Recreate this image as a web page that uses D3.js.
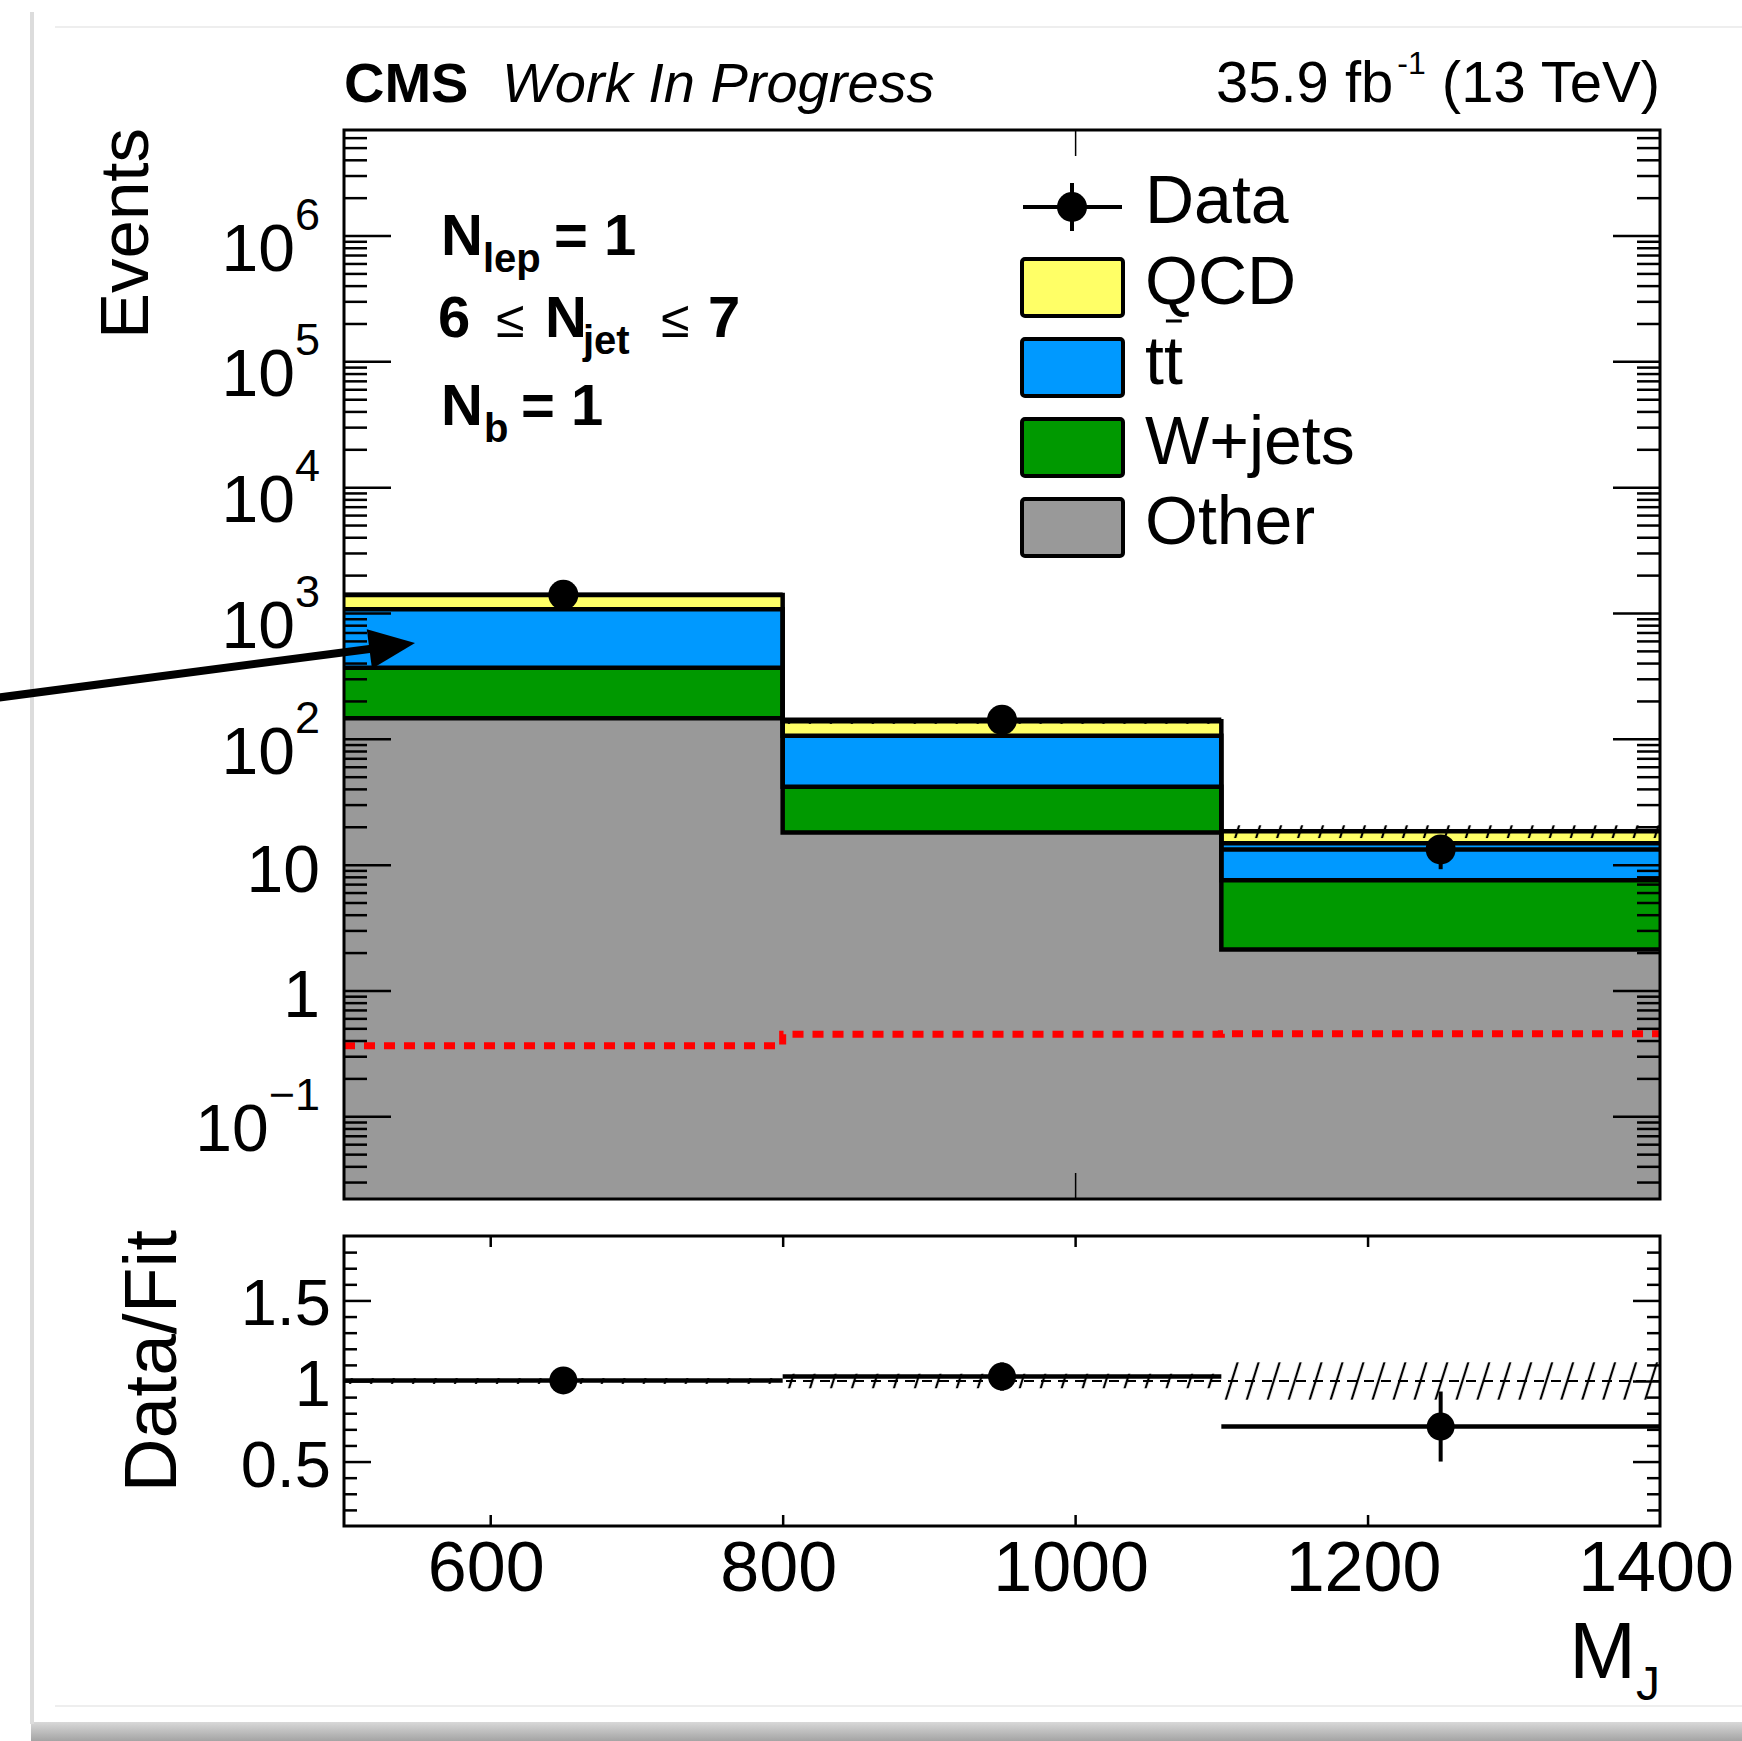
<!DOCTYPE html>
<html>
<head>
<meta charset="utf-8">
<script src="https://cdn.jsdelivr.net/npm/d3@7"></script>
<style>
  html, body { margin: 0; background: #fff; overflow: hidden; }
  svg { display: block; font-family: "Liberation Sans", Arial, Helvetica, sans-serif; }
</style>
</head>
<body>
<div id="chart"></div>
<script>
// ---- data ----
const binEdges = [500, 800, 1100, 1400];
const other = [146, 18.0, 2.12];
const wjets = [221, 23.6, 5.41];
const ttbar = [702, 64.4, 7.27];
const qcd = [321, 31.7, 3.6];
const dataCounts = [1395, 141.5, 13.2];
const dataErr = [37, 12, 4.0];
const fitUnc = [0.018, 0.045, 0.116];     // relative uncertainty on the fit
const signal = [0.363, 0.448, 0.452];     // red dashed histogram

const yMajorTicks = [0.1, 1, 10, 100, 1e3, 1e4, 1e5, 1e6];
const yTickLabels = [["10", "\u22121"], ["1", ""], ["10", ""], ["10", "2"], ["10", "3"], ["10", "4"], ["10", "5"], ["10", "6"]];
const ratioTicks = [0.5, 1, 1.5];
const ratioTickLabels = ["0.5", "1", "1.5"];
const xTicks = [600, 800, 1000, 1200, 1400];
const xTickLabels = ["600", "800", "1000", "1200", "1400"];

const legendEntries = [
    { key: "qcd", label: "QCD", color: "#ffff66" },
    { key: "ttbar", label: "tt", color: "#0099ff" },
    { key: "wjets", label: "W+jets", color: "#009900" },
    { key: "other", label: "Other", color: "#999999" }
];
const colors = { qcd: "#ffff66", ttbar: "#0099ff", wjets: "#009900", other: "#999999" };

// ---- layout ----
const width = 1742, height = 1741;
const frameLeft = 344, frameRight = 1660;
const mainTop = 130, mainBottom = 1199;
const ratioTop = 1236, ratioBottom = 1526;

const svg = d3.select("#chart").append("svg")
    .attr("width", width)
    .attr("height", height);

// page border / shadow of the screenshot
const defs = svg.append("defs");
const shadow = defs.append("linearGradient").attr("id", "shadow").attr("x1", 0).attr("y1", 0).attr("x2", 0).attr("y2", 1);
shadow.append("stop").attr("offset", "0%").attr("stop-color", "#d8d8d8");
shadow.append("stop").attr("offset", "100%").attr("stop-color", "#a4a4a4");
svg.append("rect").attr("x", 31).attr("y", 1722).attr("width", width - 31).attr("height", height - 1722).attr("fill", "url(#shadow)");
svg.append("rect").attr("x", 30).attr("y", 12).attr("width", 4).attr("height", 1712).attr("fill", "#dcdcdc");
svg.append("line").attr("x1", 55).attr("x2", width).attr("y1", 27).attr("y2", 27).attr("stroke", "#eeeeee").attr("stroke-width", 2);
svg.append("line").attr("x1", 55).attr("x2", width).attr("y1", 1706).attr("y2", 1706).attr("stroke", "#eeeeee").attr("stroke-width", 2);

// hatch pattern for fit uncertainty
defs.append("pattern")
    .attr("id", "hatch")
    .attr("patternUnits", "userSpaceOnUse")
    .attr("width", 20).attr("height", 20)
    .attr("patternTransform", "rotate(17.5)")
    .append("line")
    .attr("x1", 10).attr("x2", 10).attr("y1", 0).attr("y2", 20)
    .attr("stroke", "#000").attr("stroke-width", 2.2);

defs.append("clipPath").attr("id", "clipMain").append("rect")
    .attr("x", frameLeft).attr("y", mainTop).attr("width", frameRight - frameLeft).attr("height", mainBottom - mainTop);
defs.append("clipPath").attr("id", "clipRatio").append("rect")
    .attr("x", frameLeft).attr("y", ratioTop).attr("width", frameRight - frameLeft).attr("height", ratioBottom - ratioTop);

//Scales
const x = d3.scaleLinear().domain([500, 1400]).range([frameLeft, frameRight]);
const y = d3.scaleLog().domain([0.022, 6.9e6]).range([mainBottom, mainTop]);
const r = d3.scaleLinear().domain([0.1, 1.9]).range([ratioBottom, ratioTop]);

//Stack the backgrounds
const rows = binEdges.slice(0, -1).map((lo, i) => ({
    lo, hi: binEdges[i + 1],
    other: other[i], wjets: wjets[i], ttbar: ttbar[i], qcd: qcd[i]
}));
const series = d3.stack().keys(["other", "wjets", "ttbar", "qcd"])(rows);
const totals = series[series.length - 1].map(d => d[1]);

const stepPoints = s => [...s.map(d => [d.data.lo, d[1]]), [s[s.length - 1].data.hi, s[s.length - 1][1]]];
const stepArea = d3.area()
    .x(d => x(d[0]))
    .y0(mainBottom)
    .y1(d => y(d[1]))
    .curve(d3.curveStepAfter);
const stepLine = d3.line()
    .x(d => x(d[0]))
    .y(d => y(d[1]))
    .curve(d3.curveStepAfter);

const main = svg.append("g").attr("clip-path", "url(#clipMain)");
const topFirst = series.slice().reverse();
main.selectAll(".fill")
    .data(topFirst)
    .enter().append("path")
    .attr("class", "fill")
    .attr("d", s => stepArea(stepPoints(s)))
    .attr("fill", s => colors[s.key]);
main.selectAll(".outline")
    .data(topFirst)
    .enter().append("path")
    .attr("class", "outline")
    .attr("d", s => stepLine(stepPoints(s)))
    .attr("fill", "none")
    .attr("stroke", "#000")
    .attr("stroke-width", 4.5);

//Signal (red dashed)
const sigPts = [...signal.map((v, i) => [binEdges[i], v]), [binEdges[3], signal[2]]];
main.append("path")
    .attr("d", stepLine(sigPts))
    .attr("fill", "none")
    .attr("stroke", "#ff0000")
    .attr("stroke-width", 7)
    .attr("stroke-dasharray", "11,9");

//Fit uncertainty band
main.selectAll(".band")
    .data(rows)
    .enter().append("rect")
    .attr("x", d => x(d.lo))
    .attr("width", d => x(d.hi) - x(d.lo))
    .attr("y", (d, i) => y(totals[i] * (1 + fitUnc[i])))
    .attr("height", (d, i) => y(totals[i] * (1 - fitUnc[i])) - y(totals[i] * (1 + fitUnc[i])))
    .attr("fill", "url(#hatch)");

//Data points
function drawData(g, sy, vals, errs, rad) {
    const pts = g.selectAll(null).data(rows).enter().append("g");
    pts.append("line")
        .attr("x1", d => x(d.lo)).attr("x2", d => x(d.hi))
        .attr("y1", (d, i) => sy(vals[i])).attr("y2", (d, i) => sy(vals[i]))
        .attr("stroke", "#000").attr("stroke-width", 4.5);
    pts.append("line")
        .attr("x1", d => x((d.lo + d.hi) / 2)).attr("x2", d => x((d.lo + d.hi) / 2))
        .attr("y1", (d, i) => sy(vals[i] + errs[i])).attr("y2", (d, i) => sy(vals[i] - errs[i]))
        .attr("stroke", "#000").attr("stroke-width", 4);
    pts.append("circle")
        .attr("cx", d => x((d.lo + d.hi) / 2))
        .attr("cy", (d, i) => sy(vals[i]))
        .attr("r", rad)
        .attr("fill", "#000");
}
drawData(main, y, dataCounts, dataErr, 15);

//Axes of the main pad
function styleAxis(g, w) {
    g.select(".domain").remove();
    g.selectAll(".tick line").attr("stroke", "#000").attr("stroke-width", w);
    g.selectAll(".tick text").remove();
}
const yMinor = [];
for (let e = -2; e <= 6; e++) {
    for (let m = 2; m <= 9; m++) {
        const v = m * Math.pow(10, e);
        if (v > y.domain()[0] && v < y.domain()[1]) yMinor.push(v);
    }
}
svg.append("g").attr("transform", `translate(${frameLeft},0)`)
    .call(d3.axisLeft(y).tickValues(yMajorTicks).tickSize(-47).tickFormat(""))
    .call(g => styleAxis(g, 2.5));
svg.append("g").attr("transform", `translate(${frameLeft},0)`)
    .call(d3.axisLeft(y).tickValues(yMinor).tickSize(-23).tickFormat(""))
    .call(g => styleAxis(g, 2.5));
svg.append("g").attr("transform", `translate(${frameRight},0)`)
    .call(d3.axisRight(y).tickValues(yMajorTicks).tickSize(-47).tickFormat(""))
    .call(g => styleAxis(g, 2.5));
svg.append("g").attr("transform", `translate(${frameRight},0)`)
    .call(d3.axisRight(y).tickValues(yMinor).tickSize(-23).tickFormat(""))
    .call(g => styleAxis(g, 2.5));
svg.append("g").attr("transform", `translate(0,${mainBottom})`)
    .call(d3.axisBottom(x).tickValues([1000]).tickSize(-26).tickFormat(""))
    .call(g => styleAxis(g, 1.5));
svg.append("g").attr("transform", `translate(0,${mainTop})`)
    .call(d3.axisTop(x).tickValues([1000]).tickSize(-26).tickFormat(""))
    .call(g => styleAxis(g, 1.5));

svg.append("rect")
    .attr("x", frameLeft).attr("y", mainTop)
    .attr("width", frameRight - frameLeft).attr("height", mainBottom - mainTop)
    .attr("fill", "none").attr("stroke", "#000").attr("stroke-width", 3);

//Y tick labels (10^n)
const yLab = svg.append("g").attr("text-anchor", "end");
yMajorTicks.forEach((v, i) => {
    const [base, sup] = yTickLabels[i];
    const t = yLab.append("text").attr("x", 320);
    if (sup) {
        t.attr("y", y(v) + 35);
        t.append("tspan").attr("font-size", 66).text(base);
        t.append("tspan").attr("font-size", 45).attr("dy", -41).text(sup);
    } else {
        t.attr("y", y(v) + 27).attr("font-size", 66).text(base);
    }
});

//Ratio pad
const ratio = svg.append("g").attr("clip-path", "url(#clipRatio)");
ratio.selectAll(".rband")
    .data(rows)
    .enter().append("rect")
    .attr("x", d => x(d.lo))
    .attr("width", d => x(d.hi) - x(d.lo))
    .attr("y", (d, i) => r(1 + fitUnc[i]))
    .attr("height", (d, i) => r(1 - fitUnc[i]) - r(1 + fitUnc[i]))
    .attr("fill", "url(#hatch)");
ratio.append("line")
    .attr("x1", frameLeft).attr("x2", frameRight)
    .attr("y1", r(1)).attr("y2", r(1))
    .attr("stroke", "#000").attr("stroke-width", 2)
    .attr("stroke-dasharray", "10,7");
const ratioVals = dataCounts.map((d, i) => d / totals[i]);
const ratioErrs = dataErr.map((e, i) => e / totals[i]);
drawData(ratio, r, ratioVals, ratioErrs, 14);

const rMinor = d3.range(0.2, 1.85, 0.1).filter(v => !ratioTicks.some(t => Math.abs(t - v) < 1e-6));
svg.append("g").attr("transform", `translate(${frameLeft},0)`)
    .call(d3.axisLeft(r).tickValues(ratioTicks).tickSize(-27).tickFormat(""))
    .call(g => styleAxis(g, 2.5));
svg.append("g").attr("transform", `translate(${frameLeft},0)`)
    .call(d3.axisLeft(r).tickValues(rMinor).tickSize(-13).tickFormat(""))
    .call(g => styleAxis(g, 2.5));
svg.append("g").attr("transform", `translate(${frameRight},0)`)
    .call(d3.axisRight(r).tickValues(ratioTicks).tickSize(-27).tickFormat(""))
    .call(g => styleAxis(g, 2.5));
svg.append("g").attr("transform", `translate(${frameRight},0)`)
    .call(d3.axisRight(r).tickValues(rMinor).tickSize(-13).tickFormat(""))
    .call(g => styleAxis(g, 2.5));
svg.append("g").attr("transform", `translate(0,${ratioBottom})`)
    .call(d3.axisBottom(x).tickValues(xTicks.slice(0, -1)).tickSize(-11).tickFormat(""))
    .call(g => styleAxis(g, 2.5));
svg.append("g").attr("transform", `translate(0,${ratioTop})`)
    .call(d3.axisTop(x).tickValues(xTicks.slice(0, -1)).tickSize(-11).tickFormat(""))
    .call(g => styleAxis(g, 2.5));
svg.append("rect")
    .attr("x", frameLeft).attr("y", ratioTop)
    .attr("width", frameRight - frameLeft).attr("height", ratioBottom - ratioTop)
    .attr("fill", "none").attr("stroke", "#000").attr("stroke-width", 3);

svg.append("g").attr("text-anchor", "end").attr("font-size", 65)
    .selectAll("text").data(ratioTicks).enter().append("text")
    .attr("x", 331).attr("y", d => r(d) + 25)
    .text((d, i) => ratioTickLabels[i]);

svg.append("g").attr("text-anchor", "middle").attr("font-size", 70)
    .selectAll("text").data(xTicks).enter().append("text")
    .attr("x", d => x(d) - 4).attr("y", 1591)
    .text((d, i) => xTickLabels[i]);

//Axis titles
svg.append("text")
    .attr("transform", "translate(148,128) rotate(-90)")
    .attr("text-anchor", "end").attr("font-size", 69)
    .text("Events");
svg.append("text")
    .attr("transform", "translate(176,1230) rotate(-90)")
    .attr("text-anchor", "end").attr("font-size", 75)
    .text("Data/Fit");
const mj = svg.append("text").attr("x", frameRight).attr("y", 1678).attr("text-anchor", "end").attr("font-size", 80);
mj.append("tspan").text("M");
mj.append("tspan").attr("font-size", 48).attr("dy", 22).text("J");

//Header
svg.append("text").attr("x", frameLeft).attr("y", 102)
    .attr("font-size", 56).attr("font-weight", "bold").text("CMS");
svg.append("text").attr("x", 502).attr("y", 102)
    .attr("font-size", 56).attr("font-style", "italic").text("Work In Progress");
const lumi = svg.append("text").attr("x", frameRight).attr("y", 102)
    .attr("text-anchor", "end").attr("font-size", 58);
lumi.append("tspan").text("35.9 fb");
lumi.append("tspan").attr("font-size", 32).attr("dx", 4).attr("dy", -28).text("-1");
lumi.append("tspan").attr("dy", 28).text(" (13 TeV)");

//Selection labels
const sel = svg.append("g").attr("font-weight", "bold").attr("font-size", 58);
const row1 = sel.append("text").attr("y", 255);
row1.append("tspan").attr("x", 441).text("N");
row1.append("tspan").attr("x", 483).attr("dy", 17).attr("font-size", 40).text("lep");
row1.append("tspan").attr("x", 554).attr("dy", -17).text("=");
row1.append("tspan").attr("x", 604).text("1");
const row2 = sel.append("text").attr("y", 337);
row2.append("tspan").attr("x", 438).text("6");
row2.append("tspan").attr("x", 496).attr("font-weight", "normal").attr("font-size", 52).text("\u2264");
row2.append("tspan").attr("x", 545).text("N");
row2.append("tspan").attr("x", 583).attr("dy", 17).attr("font-size", 40).text("jet");
row2.append("tspan").attr("x", 661).attr("dy", -17).attr("font-weight", "normal").attr("font-size", 52).text("\u2264");
row2.append("tspan").attr("x", 708).text("7");
const row3 = sel.append("text").attr("y", 425);
row3.append("tspan").attr("x", 441).text("N");
row3.append("tspan").attr("x", 484).attr("dy", 17).attr("font-size", 40).text("b");
row3.append("tspan").attr("x", 521).attr("dy", -17).text("=");
row3.append("tspan").attr("x", 571).text("1");

//Legend
const legend = svg.append("g").attr("font-size", 68);
const legendTextX = 1145;
const dataRowY = 207;
legend.append("line").attr("x1", 1023).attr("x2", 1122).attr("y1", dataRowY).attr("y2", dataRowY)
    .attr("stroke", "#000").attr("stroke-width", 4);
legend.append("line").attr("x1", 1072).attr("x2", 1072).attr("y1", dataRowY - 24).attr("y2", dataRowY + 24)
    .attr("stroke", "#000").attr("stroke-width", 4);
legend.append("circle").attr("cx", 1072).attr("cy", dataRowY).attr("r", 15).attr("fill", "#000");
legend.append("text").attr("x", legendTextX).attr("y", dataRowY + 16).text("Data");

const items = legend.selectAll(".item")
    .data(legendEntries)
    .enter().append("g")
    .attr("class", "item")
    .attr("transform", (d, i) => `translate(0,${287 + i * 80})`);
items.append("rect")
    .attr("x", 1022).attr("y", -28).attr("width", 101).attr("height", 57)
    .attr("rx", 3)
    .attr("fill", d => d.color)
    .attr("stroke", "#000").attr("stroke-width", 4);
items.append("text")
    .attr("x", legendTextX).attr("y", 17)
    .text(d => d.label);

// overbar on the second t of "tt"
const probe = legend.append("text").attr("x", 0).attr("y", -100).text("t");
let tWidth = probe.node().getComputedTextLength();
if (!(tWidth > 0)) tWidth = 0.278 * 68;
probe.remove();
legend.append("line")
    .attr("x1", legendTextX + tWidth + 2).attr("x2", legendTextX + 2 * tWidth - 1)
    .attr("y1", 287 + 80 - 46).attr("y2", 287 + 80 - 46)
    .attr("stroke", "#000").attr("stroke-width", 3);

//Arrow annotation
const arrowTail = [-5, 698], arrowTip = [415, 643];
const ang = Math.atan2(arrowTip[1] - arrowTail[1], arrowTip[0] - arrowTail[0]);
const headLen = 46, headHalf = 20;
const bx = arrowTip[0] - headLen * Math.cos(ang), by = arrowTip[1] - headLen * Math.sin(ang);
svg.append("line")
    .attr("x1", arrowTail[0]).attr("y1", arrowTail[1]).attr("x2", bx + 4 * Math.cos(ang)).attr("y2", by + 4 * Math.sin(ang))
    .attr("stroke", "#000").attr("stroke-width", 8);
svg.append("polygon")
    .attr("points", [
        arrowTip,
        [bx - headHalf * Math.sin(ang), by + headHalf * Math.cos(ang)],
        [bx + headHalf * Math.sin(ang), by - headHalf * Math.cos(ang)]
    ].map(p => p.join(",")).join(" "))
    .attr("fill", "#000");
</script>
</body>
</html>
